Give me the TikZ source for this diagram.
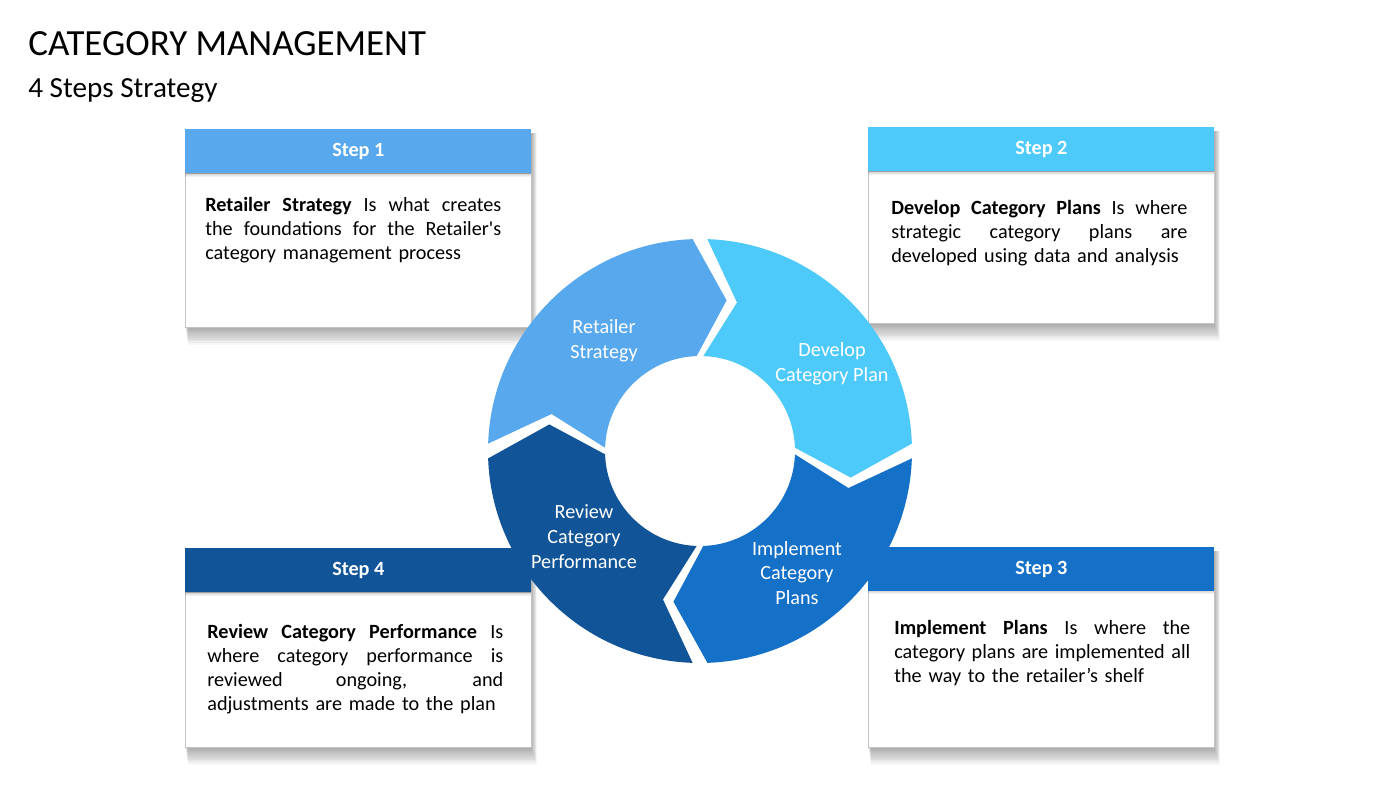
\documentclass[tikz,border=0pt]{standalone}
\usepackage{fontspec}
\setmainfont{Carlito}
\usetikzlibrary{positioning}
\newcommand{\fullline}[1]{\leavevmode\hbox to 5.92cm{\spaceskip=0.226em plus 1fil\relax #1}}
\definecolor{stepA}{RGB}{88,168,238}
\definecolor{stepB}{RGB}{78,202,250}
\definecolor{stepC}{RGB}{21,112,200}
\definecolor{stepD}{RGB}{17,84,151}
\definecolor{boxline}{RGB}{195,195,195}
\tikzset{
  head/.style={text=white, inner sep=0pt, anchor=north west, minimum width=6.92cm,
    minimum height=0.88cm, font=\bfseries\fontsize{11.5}{13.7}\selectfont},
  desc/.style={text width=5.92cm, align=left, inner sep=0pt, anchor=north west,
    font=\fontsize{11.5}{13.66}\selectfont},
  ringtxt/.style={text=white, align=center, font=\fontsize{11.5}{14.2}\selectfont}
}
\begin{document}
\begin{tikzpicture}[x=0.02cm, y=-0.02cm]
  \useasboundingbox (0,0) rectangle (1400,788);
  \fill[white] (0,0) rectangle (1400,788);
  \node[anchor=base west, inner sep=0pt, font=\fontsize{21}{25}\selectfont] (title) at (28,55) {CATEGORY MANAGEMENT};
  \node[anchor=base west, inner sep=0pt, font=\fontsize{16.6}{20}\selectfont] (sub) at (28,97) {4 Steps Strategy};
  % cards
  \foreach \n/\x/\y/\yh/\yb/\col in {1/185/129/173/327/stepA, 2/868/127/171/323/stepB,
    3/868/547/590/747/stepC, 4/185/548/592/747/stepD}{
    \foreach \s in {1,...,10}
      \fill[black, opacity=0.035] (\x+\s*0.3,\y+4) rectangle (\x+346+\s*0.6,\yb+\s*1.8);
    \fill[white] (\x,\yh) rectangle (\x+346,\yb);
    \draw[boxline] (\x,\yh) rectangle (\x+346,\yb);
    \foreach \s in {1,...,4}
      \fill[black, opacity=0.05] (\x,\yh) rectangle (\x+346,\yh+\s);
    \node[head, fill=\col] (h\n) at (\x,\y) {Step \n};
  }
  \node[desc] (d1) at (205,197) {\fullline{\textbf{Retailer Strategy} Is what creates}\\
    \fullline{the foundations for the Retailer\textquotesingle s}\\ category management process};
  \node[desc] (d2) at (891,200) {\fullline{\textbf{Develop Category Plans} Is where}\\
    \fullline{strategic category plans are}\\ developed using data and analysis};
  \node[desc] (d3) at (894,620) {\fullline{\textbf{Implement Plans} Is where the}\\
    \fullline{category plans are implemented all}\\ the way to the retailer’s shelf};
  \node[desc] (d4) at (207,624) {\fullline{\textbf{Review Category Performance} Is}\\
    \fullline{where category performance is}\\ \fullline{reviewed ongoing, and}\\
    adjustments are made to the plan};
  % ring
  \begin{scope}[shift={(700,451)}, y=0.02cm]
    \foreach \a/\col in {180/stepA, 90/stepB, 0/stepC, -90/stepD}
      \fill[\col] (\a-2:212) arc[start angle=\a-2, end angle=\a-88, radius=212]
        -- (\a-100:153) -- (\a-88:95) arc[start angle=\a-88, end angle=\a-2, radius=95]
        -- (\a-14:153) -- cycle;
  \end{scope}
  \node[ringtxt] (r1) at (604,341) {Retailer\\Strategy};
  \node[ringtxt] (r2) at (832,364) {Develop\\Category Plan};
  \node[ringtxt] (r3) at (797,573) {Implement\\Category\\Plans};
  \node[ringtxt] (r4) at (584,537) {Review\\Category\\Performance};
\end{tikzpicture}
\end{document}
